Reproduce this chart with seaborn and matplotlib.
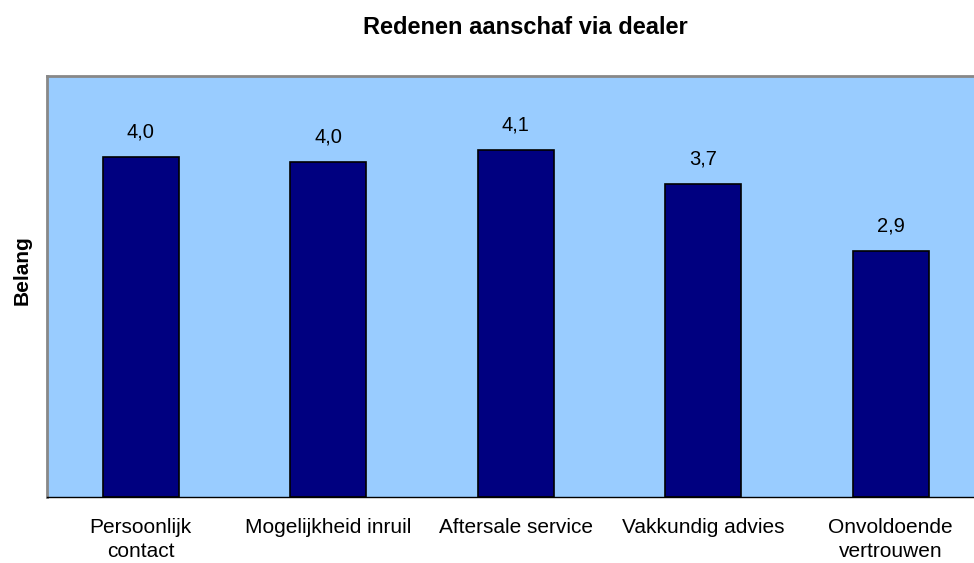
import matplotlib
matplotlib.use("Agg")
import matplotlib.pyplot as plt
import seaborn as sns
import pandas as pd

categories = ["Persoonlijk\ncontact", "Mogelijkheid inruil", "Aftersale service",
              "Vakkundig advies", "Onvoldoende\nvertrouwen"]
values = [4.04, 3.98, 4.12, 3.72, 2.92]
title = "Redenen aanschaf via dealer"
ylabel = "Belang"

sns.set_style("white")
plt.rcParams['font.family'] = ['Liberation Sans', 'DejaVu Sans']
plt.rcParams['text.color'] = 'black'
plt.rcParams['xtick.color'] = 'black'

W, H = 974, 563
fig = plt.figure(figsize=(W / 100, H / 100), dpi=100)
left, right, top, bottom = 47, 984.5, 76, 497
ax = fig.add_axes([left / W, 1 - bottom / H, (right - left) / W, (bottom - top) / H])
ax.set_facecolor("#99CCFF")

df = pd.DataFrame({"cat": categories, "val": values})
sns.barplot(data=df, x="cat", y="val", ax=ax, color="#000080", width=0.405,
            edgecolor="black", linewidth=1.2, saturation=1)

ax.set_xlim(-0.5, 4.5)
ax.set_ylim(0, 5)
ax.set_yticks([])
ax.set_xlabel("")
ax.set_ylabel("")

for i, v in enumerate(values):
    ax.text(i, v + 0.18, f"{v:.1f}".replace(".", ","), ha="center", va="bottom",
            fontsize=14.5, color="black")

ax.set_xticks(range(len(categories)))
ax.set_xticklabels(categories, fontsize=15, linespacing=1.35, color="black")
ax.tick_params(axis="x", which="major", length=0, pad=15)
ax.set_xticks([i - 0.5 for i in range(len(categories) + 1)], minor=True)
ax.tick_params(axis="x", which="minor", length=7, width=1, color="black", direction="out")

for s in ["top", "left"]:
    ax.spines[s].set_color("#888888")
    ax.spines[s].set_linewidth(2)
ax.spines["bottom"].set_color("black")
ax.spines["bottom"].set_linewidth(1)
ax.spines["right"].set_visible(False)

fig.text(525 / W, 1 - 28 / H, title, ha="center", va="center",
         fontsize=17, fontweight="bold", color="black")
fig.text(22 / W, 1 - 270 / H, ylabel, ha="center", va="center", rotation=90,
         fontsize=15, fontweight="bold", color="black")

fig.savefig("out.png", dpi=100)
